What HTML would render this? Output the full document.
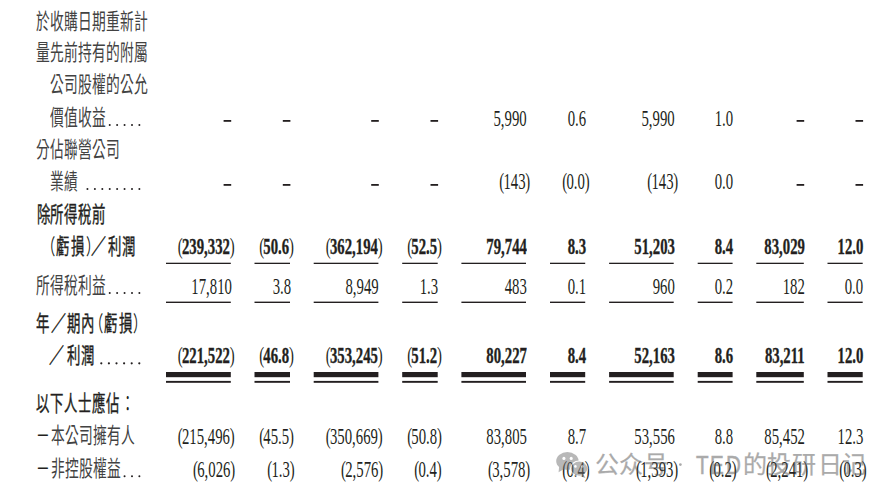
<!DOCTYPE html>
<html lang="zh-TW"><head><meta charset="utf-8"><title>table</title>
<style>
html,body{margin:0;padding:0;background:#fff}
body{width:895px;height:500px;position:relative;overflow:hidden}
.n,.c,.w{position:absolute;white-space:nowrap}
.n,.c{color:#231f20}
.n{font-family:"Liberation Serif",serif;font-size:22.5px;line-height:22.5px;transform:scaleX(0.655);transform-origin:100% 0}
.n.b{font-weight:bold;-webkit-text-stroke:0.35px #231f20}
.n .p{font-weight:normal;-webkit-text-stroke:0}
.n .pl{margin-right:-1.2px}
.n .pr{margin-left:-0.4px}
.c{font-family:"Liberation Sans",sans-serif;font-size:21.5px;line-height:21.5px;transform:scaleX(0.64);transform-origin:0 0}
.c{color:#424242}
.c.b{color:#231f20;font-size:21.4px;line-height:21.4px;-webkit-text-stroke:0.4px #231f20;transform:scaleX(0.625)}
.c.b.sl{transform:scaleX(0.70)}
.c.b.pa{-webkit-text-stroke:0;transform:scaleX(0.62)}
.c.b.co{-webkit-text-stroke:0}
.c.dk{color:#231f20}
.ln,.wx{position:absolute;left:0;top:0}
.wmk{position:absolute;left:0;top:0;width:895px;height:500px;opacity:0.5}
.w{font-family:"Liberation Sans",sans-serif;font-size:24.0px;line-height:24.0px;color:#575757;-webkit-text-stroke:0.25px #575757}
.w.l{font-size:25.5px;line-height:24.0px;transform:scaleX(0.81);transform-origin:0 0;-webkit-text-stroke:0.5px #575757}
</style></head>
<body>
<div class="c" style="left:35.80px;top:11.70px">於</div>
<div class="c" style="left:49.80px;top:11.70px">收</div>
<div class="c" style="left:63.80px;top:11.70px">購</div>
<div class="c" style="left:77.80px;top:11.70px">日</div>
<div class="c" style="left:91.80px;top:11.70px">期</div>
<div class="c" style="left:105.80px;top:11.70px">重</div>
<div class="c" style="left:119.80px;top:11.70px">新</div>
<div class="c" style="left:133.80px;top:11.70px">計</div>
<div class="c" style="left:35.80px;top:42.90px">量</div>
<div class="c" style="left:49.80px;top:42.90px">先</div>
<div class="c" style="left:63.80px;top:42.90px">前</div>
<div class="c" style="left:77.80px;top:42.90px">持</div>
<div class="c" style="left:91.80px;top:42.90px">有</div>
<div class="c" style="left:105.80px;top:42.90px">的</div>
<div class="c" style="left:119.80px;top:42.90px">附</div>
<div class="c" style="left:133.80px;top:42.90px">屬</div>
<div class="c" style="left:50.00px;top:75.10px">公</div>
<div class="c" style="left:64.00px;top:75.10px">司</div>
<div class="c" style="left:78.00px;top:75.10px">股</div>
<div class="c" style="left:92.00px;top:75.10px">權</div>
<div class="c" style="left:106.00px;top:75.10px">的</div>
<div class="c" style="left:120.00px;top:75.10px">公</div>
<div class="c" style="left:134.00px;top:75.10px">允</div>
<div class="c" style="left:50.00px;top:108.10px">價</div>
<div class="c" style="left:64.00px;top:108.10px">值</div>
<div class="c" style="left:78.00px;top:108.10px">收</div>
<div class="c" style="left:92.00px;top:108.10px">益</div>
<div class="c" style="left:36.20px;top:140.10px">分</div>
<div class="c" style="left:50.20px;top:140.10px">佔</div>
<div class="c" style="left:64.20px;top:140.10px">聯</div>
<div class="c" style="left:78.20px;top:140.10px">營</div>
<div class="c" style="left:92.20px;top:140.10px">公</div>
<div class="c" style="left:106.20px;top:140.10px">司</div>
<div class="c" style="left:50.00px;top:172.00px">業</div>
<div class="c" style="left:64.00px;top:172.00px">績</div>
<div class="c b" style="left:36.60px;top:204.68px">除</div>
<div class="c b" style="left:50.40px;top:204.68px">所</div>
<div class="c b" style="left:64.20px;top:204.68px">得</div>
<div class="c b" style="left:78.00px;top:204.68px">稅</div>
<div class="c b" style="left:91.80px;top:204.68px">前</div>
<div class="c b pa" style="left:42.21px;top:236.88px">（</div>
<div class="c b" style="left:56.40px;top:236.88px">虧</div>
<div class="c b" style="left:71.00px;top:236.88px">損</div>
<div class="c b pa" style="left:85.84px;top:236.88px">）</div>
<div class="c b sl" style="left:91.00px;top:236.88px">／</div>
<div class="c b" style="left:108.00px;top:236.88px">利</div>
<div class="c b" style="left:122.00px;top:236.88px">潤</div>
<div class="c" style="left:36.20px;top:276.10px">所</div>
<div class="c" style="left:50.20px;top:276.10px">得</div>
<div class="c" style="left:64.20px;top:276.10px">稅</div>
<div class="c" style="left:78.20px;top:276.10px">利</div>
<div class="c" style="left:92.20px;top:276.10px">益</div>
<div class="c b" style="left:36.40px;top:313.78px">年</div>
<div class="c b sl" style="left:50.60px;top:313.78px">／</div>
<div class="c b" style="left:67.00px;top:313.78px">期</div>
<div class="c b" style="left:81.40px;top:313.78px">內</div>
<div class="c b pa" style="left:89.51px;top:313.78px">（</div>
<div class="c b" style="left:103.60px;top:313.78px">虧</div>
<div class="c b" style="left:119.20px;top:313.78px">損</div>
<div class="c b pa" style="left:133.34px;top:313.78px">）</div>
<div class="c b sl" style="left:48.80px;top:345.98px">／</div>
<div class="c b" style="left:66.80px;top:345.98px">利</div>
<div class="c b" style="left:81.40px;top:345.98px">潤</div>
<div class="c b" style="left:36.40px;top:394.38px">以</div>
<div class="c b" style="left:50.30px;top:394.38px">下</div>
<div class="c b" style="left:64.20px;top:394.38px">人</div>
<div class="c b" style="left:78.10px;top:394.38px">士</div>
<div class="c b" style="left:92.00px;top:394.38px">應</div>
<div class="c b" style="left:105.90px;top:394.38px">佔</div>
<div class="c b co" style="left:121.20px;top:394.38px">：</div>
<div class="c dk" style="left:35.80px;top:426.30px">－</div>
<div class="c" style="left:51.40px;top:426.30px">本</div>
<div class="c" style="left:65.40px;top:426.30px">公</div>
<div class="c" style="left:79.40px;top:426.30px">司</div>
<div class="c" style="left:93.40px;top:426.30px">擁</div>
<div class="c" style="left:107.40px;top:426.30px">有</div>
<div class="c" style="left:121.40px;top:426.30px">人</div>
<div class="c dk" style="left:35.80px;top:459.30px">－</div>
<div class="c" style="left:51.40px;top:459.30px">非</div>
<div class="c" style="left:65.40px;top:459.30px">控</div>
<div class="c" style="left:79.40px;top:459.30px">股</div>
<div class="c" style="left:93.40px;top:459.30px">權</div>
<div class="c" style="left:107.40px;top:459.30px">益</div>
<div class="n" style="right:368.30px;top:107.56px">5,990</div>
<div class="n" style="right:309.10px;top:107.56px">0.6</div>
<div class="n" style="right:220.60px;top:107.56px">5,990</div>
<div class="n" style="right:161.70px;top:107.56px">1.0</div>
<div class="n" style="right:364.80px;top:171.46px"><span class="p pl">(</span>143<span class="p pr">)</span></div>
<div class="n" style="right:305.60px;top:171.46px"><span class="p pl">(</span>0.0<span class="p pr">)</span></div>
<div class="n" style="right:217.10px;top:171.46px"><span class="p pl">(</span>143<span class="p pr">)</span></div>
<div class="n" style="right:161.70px;top:171.46px">0.0</div>
<div class="n b" style="right:660.00px;top:236.26px"><span class="p pl">(</span>239,332<span class="p pr">)</span></div>
<div class="n b" style="right:600.80px;top:236.26px"><span class="p pl">(</span>50.6<span class="p pr">)</span></div>
<div class="n b" style="right:512.40px;top:236.26px"><span class="p pl">(</span>362,194<span class="p pr">)</span></div>
<div class="n b" style="right:453.10px;top:236.26px"><span class="p pl">(</span>52.5<span class="p pr">)</span></div>
<div class="n b" style="right:368.30px;top:236.26px">79,744</div>
<div class="n b" style="right:309.10px;top:236.26px">8.3</div>
<div class="n b" style="right:220.60px;top:236.26px">51,203</div>
<div class="n b" style="right:161.70px;top:236.26px">8.4</div>
<div class="n b" style="right:90.50px;top:236.26px">83,029</div>
<div class="n b" style="right:31.60px;top:236.26px">12.0</div>
<div class="n" style="right:663.50px;top:275.56px">17,810</div>
<div class="n" style="right:604.30px;top:275.56px">3.8</div>
<div class="n" style="right:515.90px;top:275.56px">8,949</div>
<div class="n" style="right:456.60px;top:275.56px">1.3</div>
<div class="n" style="right:368.30px;top:275.56px">483</div>
<div class="n" style="right:309.10px;top:275.56px">0.1</div>
<div class="n" style="right:220.60px;top:275.56px">960</div>
<div class="n" style="right:161.70px;top:275.56px">0.2</div>
<div class="n" style="right:90.50px;top:275.56px">182</div>
<div class="n" style="right:31.60px;top:275.56px">0.0</div>
<div class="n b" style="right:660.00px;top:345.36px"><span class="p pl">(</span>221,522<span class="p pr">)</span></div>
<div class="n b" style="right:600.80px;top:345.36px"><span class="p pl">(</span>46.8<span class="p pr">)</span></div>
<div class="n b" style="right:512.40px;top:345.36px"><span class="p pl">(</span>353,245<span class="p pr">)</span></div>
<div class="n b" style="right:453.10px;top:345.36px"><span class="p pl">(</span>51.2<span class="p pr">)</span></div>
<div class="n b" style="right:368.30px;top:345.36px">80,227</div>
<div class="n b" style="right:309.10px;top:345.36px">8.4</div>
<div class="n b" style="right:220.60px;top:345.36px">52,163</div>
<div class="n b" style="right:161.70px;top:345.36px">8.6</div>
<div class="n b" style="right:90.50px;top:345.36px">83,211</div>
<div class="n b" style="right:31.60px;top:345.36px">12.0</div>
<div class="n" style="right:660.00px;top:425.76px"><span class="p pl">(</span>215,496<span class="p pr">)</span></div>
<div class="n" style="right:600.80px;top:425.76px"><span class="p pl">(</span>45.5<span class="p pr">)</span></div>
<div class="n" style="right:512.40px;top:425.76px"><span class="p pl">(</span>350,669<span class="p pr">)</span></div>
<div class="n" style="right:453.10px;top:425.76px"><span class="p pl">(</span>50.8<span class="p pr">)</span></div>
<div class="n" style="right:368.30px;top:425.76px">83,805</div>
<div class="n" style="right:309.10px;top:425.76px">8.7</div>
<div class="n" style="right:220.60px;top:425.76px">53,556</div>
<div class="n" style="right:161.70px;top:425.76px">8.8</div>
<div class="n" style="right:90.50px;top:425.76px">85,452</div>
<div class="n" style="right:31.60px;top:425.76px">12.3</div>
<div class="n" style="right:660.00px;top:458.76px"><span class="p pl">(</span>6,026<span class="p pr">)</span></div>
<div class="n" style="right:600.80px;top:458.76px"><span class="p pl">(</span>1.3<span class="p pr">)</span></div>
<div class="n" style="right:512.40px;top:458.76px"><span class="p pl">(</span>2,576<span class="p pr">)</span></div>
<div class="n" style="right:453.10px;top:458.76px"><span class="p pl">(</span>0.4<span class="p pr">)</span></div>
<div class="n" style="right:364.80px;top:458.76px"><span class="p pl">(</span>3,578<span class="p pr">)</span></div>
<div class="n" style="right:305.60px;top:458.76px"><span class="p pl">(</span>0.4<span class="p pr">)</span></div>
<div class="n" style="right:217.10px;top:458.76px"><span class="p pl">(</span>1,393<span class="p pr">)</span></div>
<div class="n" style="right:158.20px;top:458.76px"><span class="p pl">(</span>0.2<span class="p pr">)</span></div>
<div class="n" style="right:87.00px;top:458.76px"><span class="p pl">(</span>2,241<span class="p pr">)</span></div>
<div class="n" style="right:28.10px;top:458.76px"><span class="p pl">(</span>0.3<span class="p pr">)</span></div>
<svg class="ln" width="895" height="500" viewBox="0 0 895 500" fill="#231f20"><rect x="166.0" y="262.7" width="64.8" height="1.3"/><rect x="166.0" y="301.6" width="64.8" height="1.4"/><rect x="166.0" y="372.0" width="64.8" height="5.2"/><rect x="166.0" y="380.9" width="64.8" height="1.9"/><rect x="254.5" y="262.7" width="35.5" height="1.3"/><rect x="254.5" y="301.6" width="35.5" height="1.4"/><rect x="254.5" y="372.0" width="35.5" height="5.2"/><rect x="254.5" y="380.9" width="35.5" height="1.9"/><rect x="313.7" y="262.7" width="64.7" height="1.3"/><rect x="313.7" y="301.6" width="64.7" height="1.4"/><rect x="313.7" y="372.0" width="64.7" height="5.2"/><rect x="313.7" y="380.9" width="64.7" height="1.9"/><rect x="402.2" y="262.7" width="35.5" height="1.3"/><rect x="402.2" y="301.6" width="35.5" height="1.4"/><rect x="402.2" y="372.0" width="35.5" height="5.2"/><rect x="402.2" y="380.9" width="35.5" height="1.9"/><rect x="461.4" y="262.7" width="64.6" height="1.3"/><rect x="461.4" y="301.6" width="64.6" height="1.4"/><rect x="461.4" y="372.0" width="64.6" height="5.2"/><rect x="461.4" y="380.9" width="64.6" height="1.9"/><rect x="550.0" y="262.7" width="35.2" height="1.3"/><rect x="550.0" y="301.6" width="35.2" height="1.4"/><rect x="550.0" y="372.0" width="35.2" height="5.2"/><rect x="550.0" y="380.9" width="35.2" height="1.9"/><rect x="609.1" y="262.7" width="64.6" height="1.3"/><rect x="609.1" y="301.6" width="64.6" height="1.4"/><rect x="609.1" y="372.0" width="64.6" height="5.2"/><rect x="609.1" y="380.9" width="64.6" height="1.9"/><rect x="697.7" y="262.7" width="34.9" height="1.3"/><rect x="697.7" y="301.6" width="34.9" height="1.4"/><rect x="697.7" y="372.0" width="34.9" height="5.2"/><rect x="697.7" y="380.9" width="34.9" height="1.9"/><rect x="756.3" y="262.7" width="47.5" height="1.3"/><rect x="756.3" y="301.6" width="47.5" height="1.4"/><rect x="756.3" y="372.0" width="47.5" height="5.2"/><rect x="756.3" y="380.9" width="47.5" height="1.9"/><rect x="827.5" y="262.7" width="35.2" height="1.3"/><rect x="827.5" y="301.6" width="35.2" height="1.4"/><rect x="827.5" y="372.0" width="35.2" height="5.2"/><rect x="827.5" y="380.9" width="35.2" height="1.9"/><rect x="223.60" y="120.00" width="7.6" height="1.8"/><rect x="282.80" y="120.00" width="7.6" height="1.8"/><rect x="371.20" y="120.00" width="7.6" height="1.8"/><rect x="430.50" y="120.00" width="7.6" height="1.8"/><rect x="796.60" y="120.00" width="7.6" height="1.8"/><rect x="855.50" y="120.00" width="7.6" height="1.8"/><rect x="223.60" y="184.00" width="7.6" height="1.8"/><rect x="282.80" y="184.00" width="7.6" height="1.8"/><rect x="371.20" y="184.00" width="7.6" height="1.8"/><rect x="430.50" y="184.00" width="7.6" height="1.8"/><rect x="796.60" y="184.00" width="7.6" height="1.8"/><rect x="855.50" y="184.00" width="7.6" height="1.8"/><circle cx="109.72" cy="125.05" r="1.0"/><circle cx="117.14" cy="125.05" r="1.0"/><circle cx="124.56" cy="125.05" r="1.0"/><circle cx="131.98" cy="125.05" r="1.0"/><circle cx="139.40" cy="125.05" r="1.0"/><circle cx="87.46" cy="188.95" r="1.0"/><circle cx="94.88" cy="188.95" r="1.0"/><circle cx="102.30" cy="188.95" r="1.0"/><circle cx="109.72" cy="188.95" r="1.0"/><circle cx="117.14" cy="188.95" r="1.0"/><circle cx="124.56" cy="188.95" r="1.0"/><circle cx="131.98" cy="188.95" r="1.0"/><circle cx="139.40" cy="188.95" r="1.0"/><circle cx="109.72" cy="293.05" r="1.0"/><circle cx="117.14" cy="293.05" r="1.0"/><circle cx="124.56" cy="293.05" r="1.0"/><circle cx="131.98" cy="293.05" r="1.0"/><circle cx="139.40" cy="293.05" r="1.0"/><circle cx="101.30" cy="363.35" r="1.1"/><circle cx="108.90" cy="363.35" r="1.1"/><circle cx="116.50" cy="363.35" r="1.1"/><circle cx="124.10" cy="363.35" r="1.1"/><circle cx="131.70" cy="363.35" r="1.1"/><circle cx="139.30" cy="363.35" r="1.1"/><circle cx="124.56" cy="476.25" r="1.0"/><circle cx="131.98" cy="476.25" r="1.0"/><circle cx="139.40" cy="476.25" r="1.0"/></svg>
<div class="wmk"><svg class="wx" width="895" height="500" viewBox="0 0 895 500">
<g fill="#737373">
<ellipse cx="567.4" cy="461.0" rx="11.2" ry="8.9"/>
<path d="M559.2 466 L558.6 472.2 L564.8 468.6 Z"/>
</g>
<circle cx="563.9" cy="458.4" r="1.55" fill="#fff"/><circle cx="571.2" cy="458.4" r="1.55" fill="#fff"/>
<ellipse cx="579.2" cy="468.6" rx="8.6" ry="7.6" fill="#737373" stroke="#fff" stroke-width="1.1"/>
<path d="M583.6 474.5 L585.6 478.2 L580.2 476 Z" fill="#737373"/>
<circle cx="575.4" cy="466.4" r="1.3" fill="#fff"/><circle cx="582.4" cy="466.4" r="1.3" fill="#fff"/>
<circle cx="680.4" cy="464.6" r="1.35" fill="#575757"/>
</svg>
<div lang="zh-CN"><div class="w" style="left:594.90px;top:453.28px">公</div><div class="w" style="left:619.20px;top:453.28px">众</div><div class="w" style="left:643.50px;top:453.28px">号</div><div class="w" style="left:742.80px;top:453.28px">的</div><div class="w" style="left:766.80px;top:453.28px">投</div><div class="w" style="left:791.60px;top:453.28px">研</div><div class="w" style="left:818.20px;top:453.28px">日</div><div class="w" style="left:842.40px;top:453.28px">记</div><div class="w l" style="left:696.40px;top:453.28px">T</div><div class="w l" style="left:709.60px;top:453.28px">E</div><div class="w l" style="left:725.80px;top:453.28px">D</div></div></div>
</body></html>
